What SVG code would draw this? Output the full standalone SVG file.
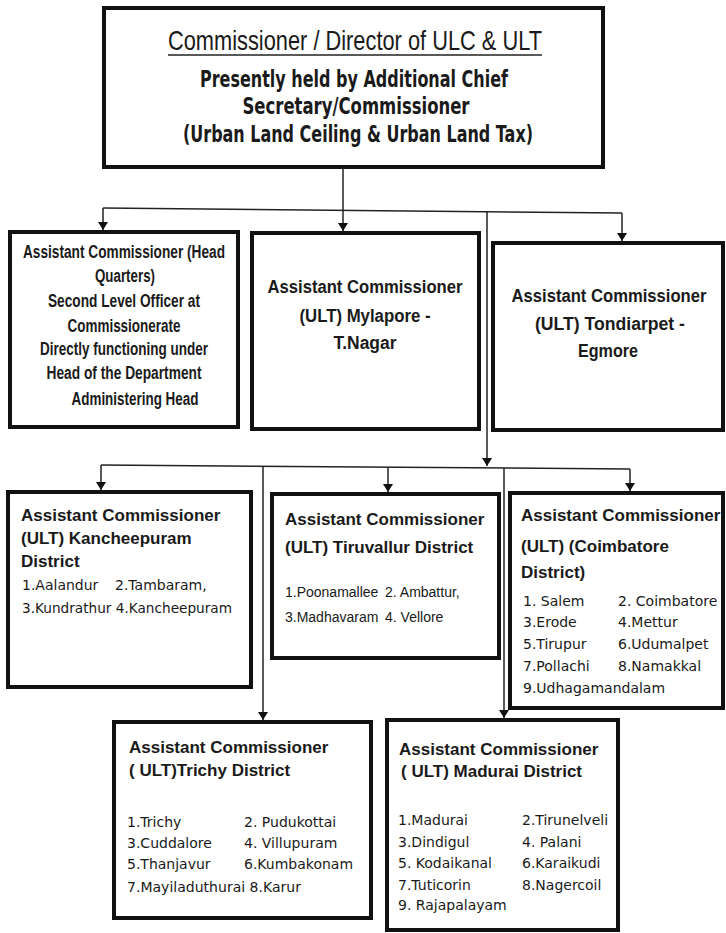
<svg xmlns="http://www.w3.org/2000/svg" width="726" height="933" viewBox="0 0 726 933">
<style>
.box{fill:#fff;stroke:#111;stroke-width:4}
.ln{fill:none;stroke:#222;stroke-width:1.5}
.tb{font-family:"DejaVu Sans",sans-serif;font-weight:bold;fill:#1a1a1a}
.hn{font-family:"Liberation Sans",Arial,sans-serif;font-weight:bold;fill:#1a1a1a}
.hd{font-family:"Liberation Sans",Arial,sans-serif;font-weight:bold;font-size:17px;fill:#1a1a1a}
.lv{font-family:"DejaVu Sans",sans-serif;font-size:14px;fill:#1a1a1a}
.la{font-family:"Liberation Sans",Arial,sans-serif;fill:#1a1a1a}
.m{text-anchor:middle}
</style>
<defs>
<marker id="ah" markerWidth="8" markerHeight="10" refX="8" refY="5" orient="auto" markerUnits="userSpaceOnUse"><path d="M0,0 L8,5 L0,10 z" fill="#111"/></marker>
</defs>
<rect width="726" height="933" fill="#fff"/>
<g id="connectors">
<path class="ln" d="M343,169 V231" marker-end="url(#ah)"/>
<path class="ln" d="M103,208 L622,213"/>
<path class="ln" d="M103,208 V230" marker-end="url(#ah)"/>
<path class="ln" d="M622,213 V241" marker-end="url(#ah)"/>
<path class="ln" d="M487,211 V466" marker-end="url(#ah)"/>
<path class="ln" d="M101,465 L630,469"/>
<path class="ln" d="M101,465 V490" marker-end="url(#ah)"/>
<path class="ln" d="M388,467 V492" marker-end="url(#ah)"/>
<path class="ln" d="M630,469 V491" marker-end="url(#ah)"/>
<path class="ln" d="M263,466 V720" marker-end="url(#ah)"/>
<path class="ln" d="M504,468 V718" marker-end="url(#ah)"/>
</g>
<g id="commissioner">
<rect class="box" x="104" y="8" width="499" height="159"/>
<text class="la m" x="355" y="50" font-size="28" textLength="374" lengthAdjust="spacingAndGlyphs">Commissioner / Director of ULC &amp; ULT</text>
<line x1="168" y1="55" x2="542" y2="55" stroke="#222" stroke-width="1.5"/>
<text class="tb m" x="354" y="87" font-size="23" textLength="308" lengthAdjust="spacingAndGlyphs">Presently held by Additional Chief</text>
<text class="tb m" x="356" y="114" font-size="23" textLength="227" lengthAdjust="spacingAndGlyphs">Secretary/Commissioner</text>
<text class="tb m" x="358" y="142" font-size="23" textLength="350" lengthAdjust="spacingAndGlyphs">(Urban Land Ceiling &amp; Urban Land Tax)</text>
</g>
<g id="ac-hq">
<rect class="box" x="10" y="232" width="228" height="195"/>
<text class="hn m" x="124" y="258" font-size="18" textLength="202" lengthAdjust="spacingAndGlyphs">Assistant Commissioner (Head</text>
<text class="hn m" x="125" y="282" font-size="18" textLength="60" lengthAdjust="spacingAndGlyphs">Quarters)</text>
<text class="hn m" x="124" y="307" font-size="18" textLength="152" lengthAdjust="spacingAndGlyphs">Second Level Officer at</text>
<text class="hn m" x="124" y="332" font-size="18" textLength="113" lengthAdjust="spacingAndGlyphs">Commissionerate</text>
<text class="hn m" x="124" y="355" font-size="18" textLength="168" lengthAdjust="spacingAndGlyphs">Directly functioning under</text>
<text class="hn m" x="124" y="379" font-size="18" textLength="155" lengthAdjust="spacingAndGlyphs">Head of the Department</text>
<text class="hn m" x="135" y="405" font-size="18" textLength="127" lengthAdjust="spacingAndGlyphs">Administering Head</text>
</g>
<g id="ac-mylapore">
<rect class="box" x="252" y="233" width="227" height="196"/>
<text class="hn m" x="365" y="293" font-size="18" textLength="195" lengthAdjust="spacingAndGlyphs">Assistant Commissioner</text>
<text class="hn m" x="365" y="322" font-size="18" textLength="131" lengthAdjust="spacingAndGlyphs">(ULT) Mylapore -</text>
<text class="hn m" x="365" y="349" font-size="18" textLength="63" lengthAdjust="spacingAndGlyphs">T.Nagar</text>
</g>
<g id="ac-tondiarpet">
<rect class="box" x="493" y="243" width="230" height="187"/>
<text class="hn m" x="609" y="302" font-size="18" textLength="195" lengthAdjust="spacingAndGlyphs">Assistant Commissioner</text>
<text class="hn m" x="610" y="330" font-size="18" textLength="150" lengthAdjust="spacingAndGlyphs">(ULT) Tondiarpet -</text>
<text class="hn m" x="608" y="357" font-size="18" textLength="60" lengthAdjust="spacingAndGlyphs">Egmore</text>
</g>
<g id="ac-kancheepuram">
<rect class="box" x="8" y="492" width="243" height="195"/>
<text class="hd" x="21" y="521">Assistant Commissioner</text>
<text class="hd" x="21" y="544">(ULT) Kancheepuram</text>
<text class="hd" x="21" y="567">District</text>
<text class="lv" x="22" y="590">1.Aalandur</text>
<text class="lv" x="115" y="590">2.Tambaram,</text>
<text class="lv" x="22" y="613" textLength="210" lengthAdjust="spacingAndGlyphs">3.Kundrathur 4.Kancheepuram</text>
</g>
<g id="ac-tiruvallur">
<rect class="box" x="272" y="494" width="227" height="164"/>
<text class="hd" x="285" y="525">Assistant Commissioner</text>
<text class="hd" x="285" y="553">(ULT) Tiruvallur District</text>
<text class="la" x="285" y="597" font-size="14">1.Poonamallee</text>
<text class="la" x="385" y="597" font-size="14">2. Ambattur,</text>
<text class="la" x="285" y="622" font-size="14">3.Madhavaram</text>
<text class="la" x="385" y="622" font-size="14">4. Vellore</text>
</g>
<g id="ac-coimbatore">
<rect class="box" x="510" y="493" width="213" height="215"/>
<text class="hd" x="521" y="521">Assistant Commissioner</text>
<text class="hd" x="521" y="552">(ULT) (Coimbatore</text>
<text class="hd" x="521" y="578">District)</text>
<text class="lv" x="523" y="606">1. Salem</text>
<text class="lv" x="618" y="606">2. Coimbatore</text>
<text class="lv" x="523" y="627">3.Erode</text>
<text class="lv" x="618" y="627">4.Mettur</text>
<text class="lv" x="523" y="649">5.Tirupur</text>
<text class="lv" x="618" y="649">6.Udumalpet</text>
<text class="lv" x="523" y="671">7.Pollachi</text>
<text class="lv" x="618" y="671">8.Namakkal</text>
<text class="lv" x="523" y="693">9.Udhagamandalam</text>
</g>
<g id="ac-trichy">
<rect class="box" x="114" y="722" width="257" height="196"/>
<text class="hd" x="129" y="753">Assistant Commissioner</text>
<text class="hd" x="129" y="776">( ULT)Trichy District</text>
<text class="lv" x="127" y="827">1.Trichy</text>
<text class="lv" x="244" y="827">2. Pudukottai</text>
<text class="lv" x="127" y="848">3.Cuddalore</text>
<text class="lv" x="244" y="848">4. Villupuram</text>
<text class="lv" x="127" y="869">5.Thanjavur</text>
<text class="lv" x="244" y="869">6.Kumbakonam</text>
<text class="lv" x="127" y="892" textLength="174" lengthAdjust="spacingAndGlyphs">7.Mayiladuthurai 8.Karur</text>
</g>
<g id="ac-madurai">
<rect class="box" x="387" y="720" width="231" height="210"/>
<text class="hd" x="399" y="755">Assistant Commissioner</text>
<text class="hd" x="401" y="777">( ULT) Madurai District</text>
<text class="lv" x="398" y="825">1.Madurai</text>
<text class="lv" x="522" y="825">2.Tirunelveli</text>
<text class="lv" x="398" y="847">3.Dindigul</text>
<text class="lv" x="522" y="847">4. Palani</text>
<text class="lv" x="398" y="868">5. Kodaikanal</text>
<text class="lv" x="522" y="868">6.Karaikudi</text>
<text class="lv" x="398" y="890">7.Tuticorin</text>
<text class="lv" x="522" y="890">8.Nagercoil</text>
<text class="lv" x="398" y="910">9. Rajapalayam</text>
</g>
</svg>
